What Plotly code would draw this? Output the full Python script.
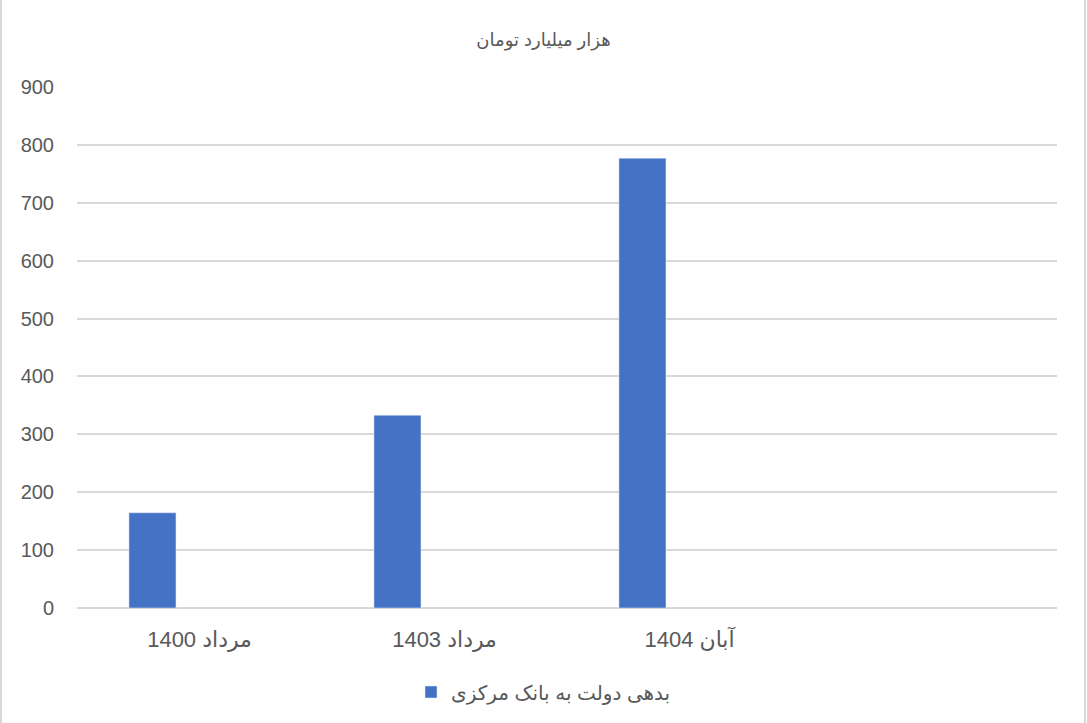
import plotly.graph_objects as go

# داده‌ها (هزار میلیارد تومان)
categories = ["مرداد 1400", "مرداد 1403", "آبان 1404", " "]
debt = [164.5, 333, 777, None]
series_name = "بدهی دولت به بانک مرکزی"
y_ticks = [0, 100, 200, 300, 400, 500, 600, 700, 800, 900]

text_color = "#595959"
grid_color = "#D9D9D9"
font_family = "Liberation Sans, Arial, DejaVu Sans, sans-serif"

fig = go.Figure()

fig.add_trace(go.Bar(
    x=categories,
    y=debt,
    name=series_name,
    marker_color="#4472C4",
    width=0.192,
    offset=-0.288,
    showlegend=True,
))

fig.update_layout(
    width=1087,
    height=723,
    paper_bgcolor="white",
    plot_bgcolor="white",
    font=dict(family=font_family, color=text_color),
    title=dict(
        text="هزار میلیارد تومان",
        x=0.5, xref="container", xanchor="center",
        y=1 - 40 / 723, yref="container", yanchor="middle",
        font=dict(size=18, color=text_color),
    ),
    xaxis=dict(
        type="category",
        showgrid=False,
        showline=False,
        zeroline=False,
        tickfont=dict(size=22, color=text_color),
        ticks="",
        ticklabelstandoff=16,
    ),
    yaxis=dict(
        range=[0, 900],
        tickvals=y_ticks,
        showgrid=True,
        gridcolor=grid_color,
        gridwidth=1.5,
        zeroline=True,
        zerolinecolor=grid_color,
        zerolinewidth=1.5,
        showline=False,
        tickfont=dict(size=20, color=text_color),
        ticklabelstandoff=22,
    ),
    showlegend=True,
    legend=dict(
        orientation="h",
        x=0.5, xref="container", xanchor="center",
        y=1 - 692 / 723, yref="container", yanchor="middle",
        font=dict(size=20, color=text_color),
    ),
    margin=dict(l=77, r=30, t=87, b=115),
    shapes=[dict(
        type="rect", xref="paper", yref="paper",
        x0=(1 - 77) / 980, x1=(1085 - 77) / 980,
        y0=-0.5, y1=1.5,
        line=dict(color=grid_color, width=2),
        fillcolor="rgba(0,0,0,0)",
        layer="below",
    )],
)

fig.write_html(
    "out.html",
    config={"displayModeBar": False},
    post_script="document.body.style.margin='0';",
)
